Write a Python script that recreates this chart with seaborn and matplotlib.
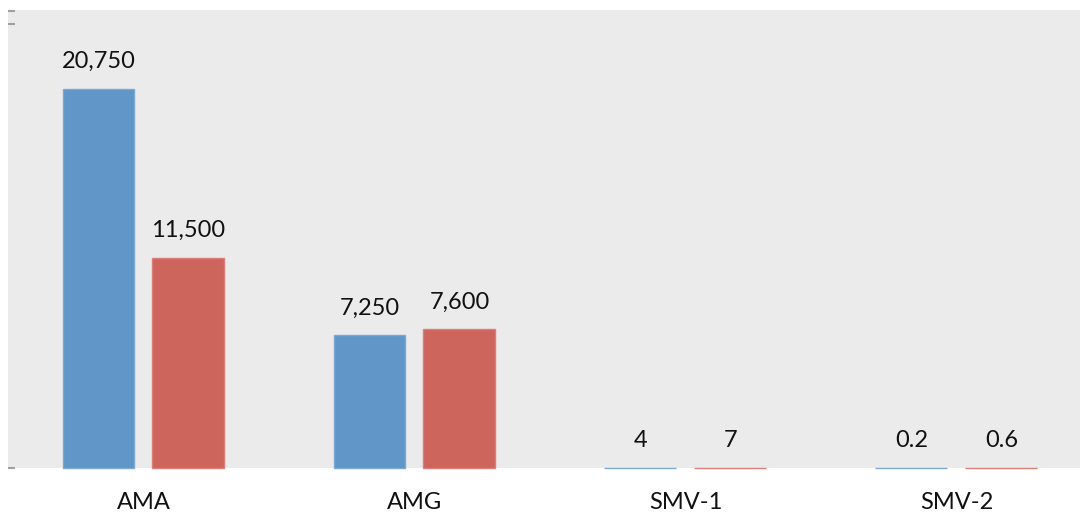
import matplotlib
matplotlib.use("Agg")
import matplotlib.pyplot as plt
import seaborn as sns
import pandas as pd

categories = ["AMA", "AMG", "SMV-1", "SMV-2"]
series_a = [20750, 7250, 4, 0.2]
series_b = [11500, 7600, 7, 0.6]
labels_a = ["20,750", "7,250", "4", "0.2"]
labels_b = ["11,500", "7,600", "7", "0.6"]

blue = "#6096C8"
red = "#CD655D"

df = pd.DataFrame({
    "category": categories * 2,
    "value": series_a + series_b,
    "series": ["A"] * len(categories) + ["B"] * len(categories),
})

sns.set_theme(style="white")
plt.rcParams["font.family"] = ["Lato", "DejaVu Sans"]

fig = plt.figure(figsize=(10.83, 5.19), dpi=100)
ax = fig.add_axes([8 / 1083, 51 / 519, 1072 / 1083, 458 / 519])
ax.set_facecolor("#EBEBEB")

sns.barplot(data=df, x="category", y="value", hue="series",
            palette=[blue, red], saturation=1, width=0.664, gap=0.2,
            legend=False, ax=ax, linewidth=1.2)

# thin outlines keep near-zero bars visible as a line at the baseline
for patch, color in zip(ax.patches, ["#7BA8D4"] * 4 + ["#DB7F78"] * 4):
    patch.set_edgecolor(color)
    patch.set_linewidth(1.0)
    patch.set_alpha(1)
    patch.set_clip_on(False)

for container, texts in zip(ax.containers, [labels_a, labels_b]):
    ax.bar_label(container, labels=texts, padding=12, fontsize=17, color="#111111")

ax.set_xlim(-0.5, 3.456)
ax.set_ylim(0, 25050)
ax.set_yticks([0, 24300, 25000])
ax.set_yticklabels([])
ax.tick_params(axis="y", direction="in", length=5, width=1.5, color="#A0A0A0", left=True)
ax.tick_params(axis="x", length=0, labelsize=17, pad=17, labelcolor="#111111")
ax.set_xlabel("")
ax.set_ylabel("")
for s in ax.spines.values():
    s.set_visible(False)

fig.savefig("out.png", dpi=100)
